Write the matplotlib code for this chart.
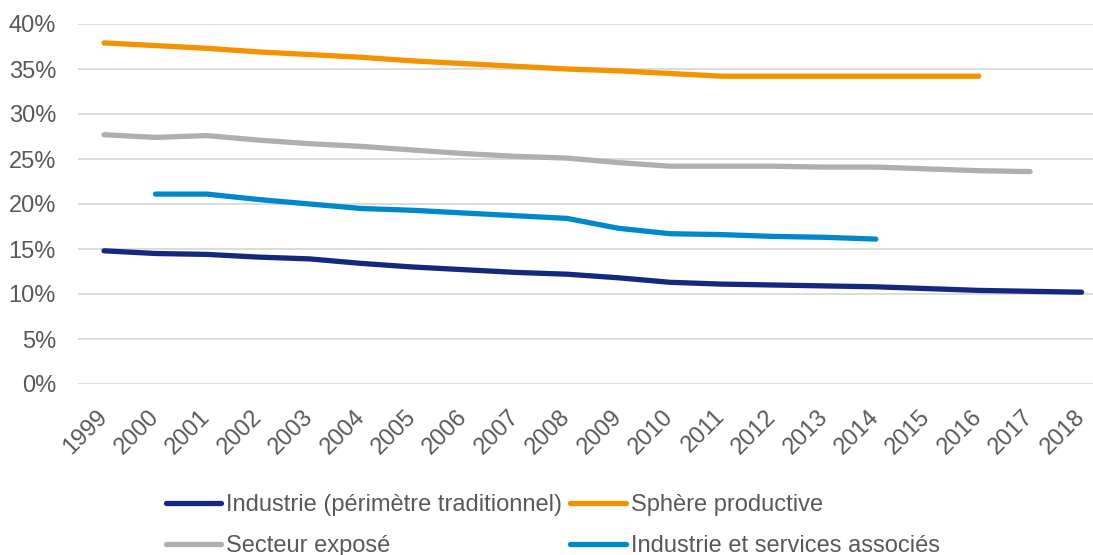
import numpy as np
import matplotlib.pyplot as plt
from matplotlib.ticker import FuncFormatter

plt.rcParams['font.family'] = ['Liberation Sans', 'DejaVu Sans']

years = [str(y) for y in range(1999, 2019)]

industrie = [14.8, 14.5, 14.4, 14.1, 13.9, 13.4, 13.0, 12.7, 12.4, 12.2,
             11.8, 11.3, 11.1, 11.0, 10.9, 10.8, 10.6, 10.4, 10.3, 10.2]
sphere = [37.9, 37.6, 37.3, 36.9, 36.6, 36.3, 35.9, 35.6, 35.3, 35.0,
          34.8, 34.5, 34.2, 34.2, 34.2, 34.2, 34.2, 34.2, None, None]
expose = [27.7, 27.4, 27.6, 27.1, 26.7, 26.4, 26.0, 25.6, 25.3, 25.1,
          24.6, 24.2, 24.2, 24.2, 24.1, 24.1, 23.9, 23.7, 23.6, None]
services = [None, 21.1, 21.1, 20.5, 20.0, 19.5, 19.3, 19.0, 18.7, 18.4,
            17.3, 16.7, 16.6, 16.4, 16.3, 16.1, None, None, None, None]

series = [
    ("Industrie (périmètre traditionnel)", industrie, "#13287f"),
    ("Sphère productive", sphere, "#f59200"),
    ("Secteur exposé", expose, "#afafaf"),
    ("Industrie et services associés", services, "#0088cc"),
]

W, H = 1093, 555
fig = plt.figure(figsize=(W / 100, H / 100), dpi=100)
ax = fig.add_axes([78.3 / W, (H - 384) / H, 1029 / W, 360 / H])

x = np.arange(len(years))
handles = []
for label, vals, color in series:
    y = np.array([np.nan if v is None else v for v in vals])
    ln, = ax.plot(x, y, color=color, lw=3.8, solid_capstyle='round',
                  solid_joinstyle='round', label=label)
    handles.append(ln)

ax.set_xlim(-0.5, len(years) - 0.5)
ax.set_ylim(0, 40)
ax.set_yticks(range(0, 41, 5))
ax.yaxis.set_major_formatter(FuncFormatter(lambda v, p: f"{v:.0f}%"))
ax.grid(axis='y', color='#d9d9d9', lw=1.3)
ax.set_axisbelow(True)
for s in ax.spines.values():
    s.set_visible(False)

ax.set_xticks(x)
ax.set_xticklabels(years, rotation=45, ha='right', va='center',
                   rotation_mode='anchor')
ax.tick_params(axis='both', length=0, labelsize=17, labelcolor='#595959')
ax.tick_params(axis='x', pad=21)
ax.tick_params(axis='y', pad=16)

# legend filled row by row: reorder for column-major layout
order = [0, 2, 1, 3]
leg = fig.legend([handles[i] for i in order],
                 [handles[i].get_label() for i in order],
                 loc='upper left', bbox_to_anchor=(166 / W, 1 - 494 / H),
                 ncol=2, frameon=False, fontsize=17, labelcolor='#595959',
                 handlelength=2.35, handletextpad=0.2, columnspacing=0.35,
                 labelspacing=0.8, borderpad=0, borderaxespad=0)
for h in leg.get_lines():
    h.set_linewidth(3.8)

fig.savefig('out.png', dpi=100)
